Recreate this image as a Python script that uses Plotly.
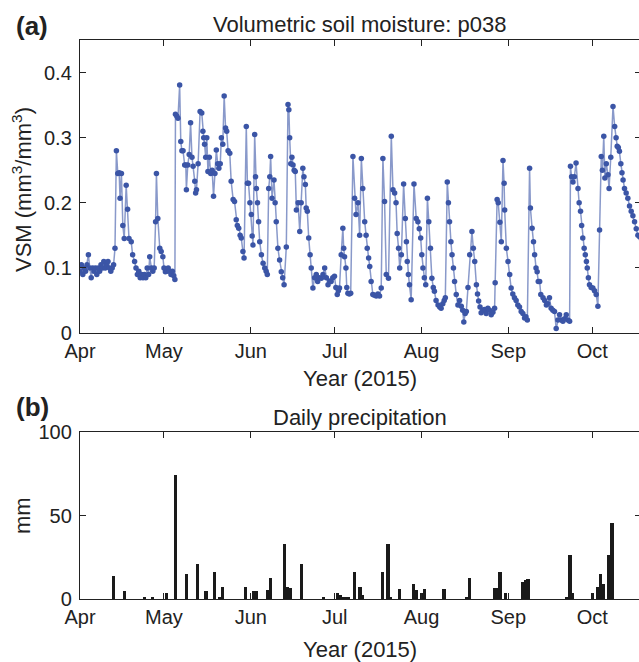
import pandas as pd
import plotly.graph_objects as go

# soil moisture retrievals: days after 1 Apr 2015, and VSM (mm3/mm3)
vsm_day = [
    0, 0.5, 1, 1.5, 2, 2.5, 3, 3.5, 4, 4.5, 5, 5.5, 6, 6.5, 7, 7.5, 8, 8.5, 9, 9.5, 10, 10.5, 11, 11.5, 12,
    12.5, 13, 13.5, 14, 14.3, 14.8, 15.3, 15.8, 16.5, 17, 17.5, 18.3, 18.8, 19.5, 20, 20.5, 21, 21.5, 22, 22.5,
    23, 23.5, 24, 24.5, 24.9, 25.5, 26, 26.5, 27, 27.3, 27.8, 28.5, 29, 29.6, 30, 30.5, 31, 31.5, 32, 32.5, 33,
    33.5, 33.9, 34.1, 34.6, 35, 35.6, 36, 36.4, 36.8, 37.4, 37.8, 38, 38.5, 39, 39.5, 40, 40.4, 41, 41.3, 41.6,
    42.2, 42.9, 43.5, 43.9, 44.2, 44.5, 44.9, 45.3, 45.7, 46.2, 46.7, 47.2, 47.7, 48.2, 48.7, 49.2, 49.6, 50.1,
    50.5, 51, 51.5, 52, 52.4, 52.9, 53.5, 54, 54.7, 55.2, 55.8, 56.2, 56.7, 57.2, 57.6, 58.2, 58.6,
    59.4, 59.8, 60.2, 60.7, 61.2, 61.5, 61.8, 62.4, 62.7, 63, 63.4, 63.8, 64.2, 64.8, 65.4, 66, 66.5, 66.9,
    67.4, 67.8, 68.1, 68.6, 69.3, 69.7, 70.1, 70.7, 71.3, 71.9, 72.4, 72.9, 73.7, 74.3, 74.6, 74.9, 75.3,
    75.7, 76.1, 76.5, 76.9, 77.3, 77.9, 78.5, 79, 79.6, 80, 80.5, 80.8, 81.2, 81.7, 82.2, 82.6, 83.2, 83.8,
    84.4, 84.9, 85.5, 86.2, 86.8, 87.4, 88, 88.6, 89.2, 89.7, 90.3, 90.9, 91.4, 91.9, 92.3, 92.7, 93.3, 93.9,
    94.2, 94.5, 95, 95.3, 95.7, 96.2, 96.7, 97.5, 98.1, 98.6, 99.3, 99.9, 100.5, 101, 101.7, 102.2, 102.6,
    103.1, 103.5, 104, 104.6, 105.2, 105.8, 106.4, 107, 107.6, 108.2, 108.8, 109.4, 110.2, 111.2, 111.8,
    112.4, 112.9, 113.3, 113.8, 114.2, 114.8, 115.6, 116.2, 116.6, 116.9, 117.3, 117.7, 118.3, 119.3, 120.1,
    120.7, 121.2, 121.7, 122.1, 122.5, 123, 123.5, 124.1, 124.6, 125.2, 125.7, 126.2, 126.6, 127.2, 127.9,
    128.5, 129, 129.6, 130.1, 130.5, 131.2, 131.6, 132, 132.5, 132.9, 133.4, 133.8, 134.4, 135, 135.6, 136.2,
    136.7, 137.1, 137.6, 138, 138.6, 139.2, 140, 140.5, 141, 141.6, 142, 142.4, 142.9, 143.3, 143.9, 144.5,
    145.1, 145.7, 146.3, 146.9, 147.5, 148.1, 148.3, 149, 149.4, 150, 150.5, 151.1, 151.5, 151.7, 152.3,
    152.9, 153.5, 154, 154.6, 155.2, 155.8, 156.4, 157, 157.6, 158.2, 158.8, 159.3, 159.8, 160.6, 160.9,
    161.5, 162, 162.4, 162.9, 163.3, 163.7, 164.2, 164.6, 165.4, 166, 166.6, 167.1, 167.7, 168.3, 168.9,
    169.5, 170.1, 170.7, 171.3, 171.9, 172.5, 173.1, 173.7, 174.3, 174.9, 175.2, 175.6, 176.1, 176.6, 177.2,
    177.9, 178.3, 178.8, 179.2, 179.6, 180.1, 180.5, 180.9, 181.2, 181.6, 182, 182.6, 183.2, 183.8, 184.4,
    185, 185.6, 186.2, 186.6, 187.1, 187.5, 188, 188.6, 189, 189.6, 190.4, 191, 191.5, 191.9, 192.3, 192.7,
    193.2, 193.6, 194, 194.5, 195.1, 195.7, 196.3, 196.9, 197.5, 198.1, 198.7, 199.3, 199.9, 200.5,
]
vsm = [
    0.095, 0.105, 0.09, 0.1, 0.095, 0.105, 0.12, 0.1, 0.085, 0.1, 0.095, 0.1, 0.09, 0.1, 0.095, 0.105, 0.1, 0.11, 0.1, 0.105, 0.11, 0.1, 0.095, 0.1, 0.105,
    0.13, 0.28, 0.245, 0.246, 0.207, 0.245, 0.165, 0.145, 0.227, 0.19, 0.145, 0.14, 0.12, 0.11, 0.1, 0.09, 0.095, 0.085, 0.09, 0.085,
    0.09, 0.085, 0.1, 0.09, 0.117, 0.1, 0.095, 0.1, 0.171, 0.245, 0.176, 0.13, 0.125, 0.117, 0.1, 0.094, 0.095, 0.1, 0.095, 0.09, 0.095,
    0.088, 0.082, 0.336, 0.333, 0.33, 0.381, 0.294, 0.28, 0.28, 0.258, 0.258, 0.22, 0.258, 0.274, 0.323, 0.27, 0.256, 0.233, 0.215, 0.22,
    0.26, 0.34, 0.338, 0.31, 0.3, 0.29, 0.27, 0.3, 0.248, 0.27, 0.245, 0.25, 0.21, 0.245, 0.281, 0.26, 0.253, 0.26,
    0.3, 0.29, 0.364, 0.315, 0.31, 0.28, 0.276, 0.233, 0.205, 0.202, 0.174, 0.165, 0.161, 0.15, 0.146, 0.125, 0.115,
    0.317, 0.23, 0.23, 0.2, 0.182, 0.149, 0.135, 0.305, 0.24, 0.222, 0.2, 0.171, 0.14, 0.12, 0.107, 0.1, 0.095, 0.09,
    0.222, 0.24, 0.271, 0.207, 0.235, 0.2, 0.171, 0.13, 0.112, 0.094, 0.085, 0.074, 0.132, 0.351, 0.343, 0.3, 0.26,
    0.27, 0.258, 0.25, 0.248, 0.189, 0.2, 0.156, 0.2, 0.253, 0.24, 0.228, 0.192, 0.187, 0.146, 0.12, 0.1, 0.069, 0.085,
    0.09, 0.079, 0.085, 0.084, 0.09, 0.1, 0.085, 0.074, 0.08, 0.079, 0.085, 0.087, 0.07, 0.059, 0.065, 0.069, 0.12, 0.161,
    0.13, 0.117, 0.1, 0.07, 0.061, 0.06, 0.061, 0.271, 0.207, 0.182, 0.2, 0.15, 0.268, 0.222, 0.171, 0.15, 0.13,
    0.115, 0.102, 0.079, 0.059, 0.058, 0.057, 0.06, 0.057, 0.069, 0.268, 0.202, 0.09, 0.084, 0.302, 0.22,
    0.215, 0.2, 0.153, 0.13, 0.1, 0.12, 0.229, 0.176, 0.14, 0.11, 0.09, 0.074, 0.051, 0.229, 0.176,
    0.171, 0.16, 0.146, 0.12, 0.1, 0.085, 0.074, 0.207, 0.171, 0.13, 0.084, 0.07, 0.064, 0.05, 0.043,
    0.04, 0.038, 0.045, 0.05, 0.054, 0.232, 0.2, 0.171, 0.14, 0.12, 0.1, 0.079, 0.059, 0.043, 0.05, 0.041,
    0.035, 0.017, 0.03, 0.033, 0.07, 0.12, 0.156, 0.13, 0.11, 0.074, 0.06, 0.049, 0.04, 0.031, 0.035, 0.036,
    0.03, 0.038, 0.035, 0.028, 0.032, 0.038, 0.077, 0.205, 0.2, 0.17, 0.14, 0.265, 0.23, 0.189, 0.13,
    0.11, 0.09, 0.069, 0.06, 0.054, 0.05, 0.043, 0.04, 0.033, 0.03, 0.023, 0.025, 0.02, 0.253, 0.192,
    0.161, 0.14, 0.12, 0.1, 0.094, 0.079, 0.079, 0.059, 0.054, 0.05, 0.043, 0.045, 0.054, 0.038, 0.035,
    0.033, 0.007, 0.02, 0.028, 0.02, 0.018, 0.022, 0.028, 0.02, 0.018, 0.256, 0.24, 0.232, 0.24, 0.261,
    0.222, 0.2, 0.187, 0.165, 0.146, 0.13, 0.12, 0.11, 0.1, 0.085, 0.074, 0.07, 0.069, 0.065, 0.059,
    0.041, 0.158, 0.271, 0.25, 0.302, 0.238, 0.26, 0.243, 0.222, 0.27, 0.348, 0.317, 0.3, 0.287, 0.285, 0.279,
    0.26, 0.246, 0.235, 0.222, 0.215, 0.207, 0.195, 0.187, 0.18, 0.171, 0.16, 0.15, 0.148, 0.145,
]

# daily precipitation: days after 1 Apr 2015, and mm
rain_day = [12, 16, 23, 26, 31, 34, 38, 42, 45, 48, 50, 51, 59, 62, 63, 67, 68, 73, 74, 75, 79, 87, 92, 93,
            94, 95, 96, 98, 100, 101, 108, 110, 111, 114, 119, 120, 122, 123, 130, 138, 139, 148, 149, 150,
            152, 158, 159, 160, 174, 175, 176, 183, 185, 186, 187, 189, 190]
rain_mm = [13.8, 4.8, 1.4, 1.4, 3.8, 74, 15, 21, 4.8, 16, 1.4, 7.4, 7.4, 4.8, 4.8, 5.4, 12.4, 32.7, 7.4, 6.4,
           21, 1.4, 3.4, 2.4, 1.4, 1.4, 1.4, 16.4, 7.4, 2.4, 16.4, 32.7, 1.4, 6, 8.8, 5.4, 3.4, 6.2, 6.2,
           1.4, 12.8, 6.4, 6.4, 16.4, 3.8, 10.4, 11.4, 11.8, 1.4, 26.3, 3.8, 3.8, 7.4, 15, 8.8, 26.3, 45.3]

start = pd.Timestamp("2015-04-01")
vsm_dates = start + pd.to_timedelta(vsm_day, unit="D")
rain_dates = start + pd.to_timedelta(rain_day, unit="D")
x_end = start + pd.Timedelta(days=200.4)

W, H = 639, 662
L, R = 80, 641  # right frame sits just past the window edge
FONT = "Liberation Sans, Arial, sans-serif"
INK = "#222"
BLUE = "#3b55a6"


def py(y):
    return 1 - y / H


def px(x):
    return (x - L) / (R - L)


fig = go.Figure()
fig.add_trace(go.Scatter(
    x=vsm_dates, y=vsm, mode="lines+markers",
    line=dict(color="rgba(59,85,166,0.6)", width=1.5),
    marker=dict(color=BLUE, size=5.5),
    xaxis="x", yaxis="y", showlegend=False,
))
fig.add_trace(go.Bar(
    x=rain_dates, y=rain_mm, width=86400000 * 1.15,
    marker=dict(color="#1a1a1a", line=dict(width=0)),
    xaxis="x2", yaxis="y2", showlegend=False,
))

axis_common = dict(
    showline=True, linecolor=INK, linewidth=1.4, mirror="ticks",
    ticks="inside", ticklen=6, tickwidth=1.3, tickcolor=INK,
    showgrid=False, zeroline=False, automargin=False,
    tickfont=dict(family=FONT, size=20, color=INK),
)
xcommon = dict(
    axis_common, type="date", range=[start, x_end], domain=[0, 1],
    tick0="2015-04-01", dtick="M1", tickformat="%b",
)

fig.update_layout(
    width=W + 2, height=H,
    margin=dict(l=L, r=0, t=0, b=0),
    paper_bgcolor="white", plot_bgcolor="white",
    bargap=0,
    xaxis=dict(xcommon, anchor="y"),
    yaxis=dict(axis_common, domain=[py(333), py(40)], anchor="x", range=[0, 0.45],
               tickvals=[0, 0.1, 0.2, 0.3, 0.4], ticklabelstandoff=3),
    xaxis2=dict(xcommon, anchor="y2"),
    yaxis2=dict(axis_common, domain=[py(599), py(432)], anchor="x2", range=[0, 100],
                tickvals=[0, 50, 100], ticklabelstandoff=3),
)

mid = (80 + 639) / 2
labels = [
    ("Volumetric soil moisture: p038", mid, 25, 22, 0),
    ("Daily precipitation", mid, 417, 22, 0),
    ("<b>(a)</b>", 32, 26, 26, 0),
    ("<b>(b)</b>", 32, 407, 26, 0),
    ("Year (2015)", mid, 378, 22, 0),
    ("Year (2015)", mid, 649, 22, 0),
    ("VSM (mm<sup>3</sup>/mm<sup>3</sup>)", 22, 190, 22, -90),
    ("mm", 22, 516, 22, -90),
]
for text, x, y, size, ang in labels:
    fig.add_annotation(
        text=text, x=px(x), y=py(y), xref="paper", yref="paper",
        xanchor="center", yanchor="middle", showarrow=False, textangle=ang,
        font=dict(family=FONT, size=size, color=INK),
    )

# drop the default 8px page margin so the figure sits at the window origin
fig.write_html(
    "out.html",
    config={"displayModeBar": False},
    post_script="document.body.style.margin='0';document.body.style.overflow='hidden';",
)
